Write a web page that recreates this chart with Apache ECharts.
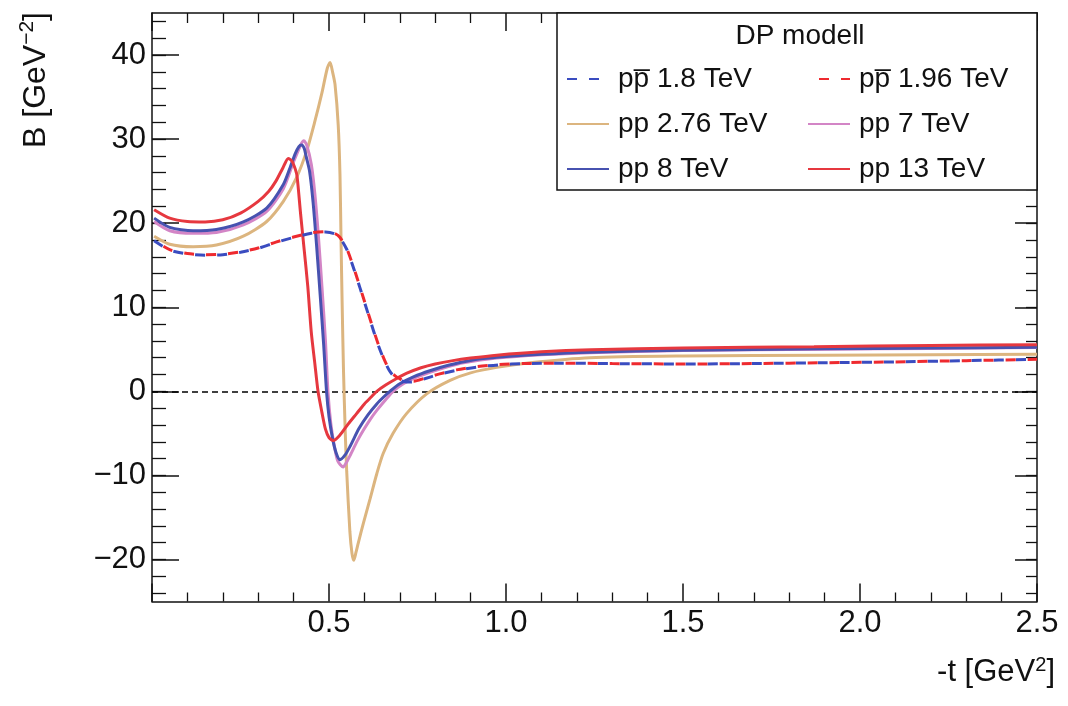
<!DOCTYPE html>
<html><head><meta charset="utf-8">
<script src="https://cdn.jsdelivr.net/npm/echarts@6/dist/echarts.min.js"></script>
<style>html,body{margin:0;padding:0;background:#fff}#c{width:1068px;height:706px}</style>
</head><body><div id="c"></div>
<script>
// ---------- DATA ----------
const xTickLabels = [0.5, 1.0, 1.5, 2.0, 2.5];
const yTickLabels = [-20, -10, 0, 10, 20, 30, 40];
const yMinorTicks = [-24,-22,-20,-18,-16,-14,-12,-10,-8,-6,-4,-2,0,2,4,6,8,10,12,14,16,18,20,22,24,26,28,30,32,34,36,38,40,42,44];

const names = ['pp\u0305 1.8 TeV', 'pp\u0305 1.96 TeV', 'pp 2.76 TeV', 'pp 7 TeV', 'pp 8 TeV', 'pp 13 TeV'];

// pp-bar 1.8 TeV (dashed blue)
const t18 = [0.006,0.05,0.1,0.15,0.2,0.25,0.3,0.35,0.4,0.45,0.49,0.515,0.53,0.55,0.565,0.58,0.595,0.61,0.625,0.64,0.655,0.67,0.685,0.70,0.72,0.74,0.77,0.81,0.86,0.92,0.98,1.05,1.15,1.3,1.5,1.7,1.9,2.1,2.3,2.5];
const b18 = [17.9,16.8,16.35,16.2,16.25,16.55,17.0,17.7,18.3,18.8,18.95,18.75,18.3,16.9,15.2,13.3,11.3,9.3,7.3,5.4,3.8,2.5,1.7,1.3,1.1,1.15,1.5,2.0,2.5,2.9,3.15,3.3,3.35,3.3,3.25,3.3,3.4,3.5,3.65,3.8];
// pp-bar 1.96 TeV (dashed red)
const t196 = [0.006,0.05,0.1,0.15,0.2,0.25,0.3,0.35,0.4,0.45,0.49,0.515,0.53,0.55,0.565,0.58,0.595,0.61,0.625,0.64,0.655,0.67,0.685,0.70,0.72,0.74,0.77,0.81,0.86,0.92,0.98,1.05,1.15,1.3,1.5,1.7,1.9,2.1,2.3,2.5];
const b196 = [17.95,16.85,16.4,16.25,16.3,16.6,17.05,17.75,18.35,18.85,19.0,18.8,18.35,17.0,15.3,13.4,11.4,9.4,7.4,5.5,3.9,2.6,1.9,1.5,1.2,1.2,1.55,2.05,2.55,2.95,3.2,3.3,3.35,3.3,3.25,3.3,3.4,3.5,3.65,3.8];
// pp 2.76 TeV (tan)
const t276 = [0.006,0.05,0.116,0.182,0.258,0.324,0.371,0.408,0.437,0.46,0.48,0.495,0.503,0.51,0.517,0.526,0.531,0.534,0.537,0.541,0.546,0.55,0.559,0.565,0.570,0.576,0.583,0.597,0.616,0.635,0.653,0.681,0.719,0.776,0.842,0.90,0.974,1.068,1.237,1.5,1.9,2.2,2.5];
const b276 = [18.45,17.5,17.2,17.4,18.45,20.2,22.6,25.4,28.6,32.1,35.5,38.4,39.1,38.0,36.5,31.7,25.8,17.9,10.7,2.4,-5.0,-9.5,-16.7,-19.3,-20.1,-19.2,-18.0,-15.7,-12.8,-9.8,-7.4,-5.0,-2.65,-0.3,1.3,2.2,2.85,3.4,4.0,4.2,4.3,4.35,4.4];
// pp 7 TeV (pink)
const t7 = [0.006,0.05,0.116,0.182,0.258,0.324,0.371,0.40,0.42,0.429,0.437,0.45,0.46,0.47,0.48,0.49,0.497,0.505,0.515,0.525,0.540,0.55,0.56,0.58,0.597,0.617,0.635,0.66,0.681,0.71,0.738,0.785,0.837,0.88,0.974,1.1,1.237,1.5,1.9,2.2,2.5];
const b7 = [20.2,19.1,18.8,18.9,19.8,21.4,24.1,27.3,29.3,29.8,29.3,27.0,23.5,18.5,12.5,6.0,0.0,-3.8,-6.5,-8.3,-9.0,-8.4,-7.6,-5.9,-4.64,-3.3,-2.26,-1.0,0.0,0.9,1.5,2.25,2.95,3.4,3.95,4.35,4.6,4.85,5.0,5.1,5.2];
// pp 8 TeV (blue)
const t8 = [0.006,0.05,0.116,0.182,0.258,0.324,0.371,0.39,0.405,0.415,0.422,0.43,0.435,0.445,0.455,0.465,0.475,0.485,0.493,0.50,0.51,0.52,0.531,0.545,0.56,0.585,0.61,0.635,0.655,0.672,0.70,0.74,0.785,0.837,0.903,0.974,1.1,1.237,1.5,1.9,2.2,2.5];
const b8 = [20.6,19.5,19.1,19.25,20.15,21.8,24.6,26.6,28.3,29.1,29.3,28.9,28.0,26.2,22.5,17.3,11.5,5.5,0.0,-3.0,-5.6,-7.3,-8.13,-7.6,-6.5,-4.4,-2.8,-1.5,-0.65,0.0,0.9,1.75,2.45,3.1,3.7,4.05,4.4,4.65,4.9,5.05,5.15,5.24];
// pp 13 TeV (red)
const t13 = [0.006,0.05,0.1,0.15,0.2,0.25,0.3,0.33,0.35,0.37,0.385,0.395,0.405,0.41,0.42,0.43,0.44,0.45,0.46,0.469,0.48,0.49,0.50,0.512,0.53,0.554,0.578,0.60,0.62,0.635,0.66,0.69,0.72,0.76,0.80,0.85,0.90,0.974,1.1,1.24,1.5,1.87,2.2,2.5];
const b13 = [21.6,20.6,20.2,20.15,20.4,21.2,22.6,23.8,25.0,26.6,27.7,27.4,26.4,25.5,21.0,16.8,12.5,7.0,3.3,0.0,-2.5,-4.5,-5.5,-5.85,-5.25,-3.9,-2.65,-1.5,-0.65,0.0,0.75,1.5,2.15,2.8,3.25,3.65,3.95,4.3,4.7,4.95,5.15,5.3,5.45,5.55];

// ---------- CHART ----------
const FONT = '"Liberation Sans", Arial, sans-serif';
const pairs = (xs, ys) => xs.map((x, i) => [x, ys[i]]);
const colors = {
  d18: '#3a4cc0', d196: '#ee2a2f', c276: '#dcb57f', c7: '#d385c6', c8: '#4752b0', c13: '#e6383f'
};
function solid(name, xs, ys, color, z) {
  return { name, type: 'line', data: pairs(xs, ys), symbol: 'none', showSymbol: false,
    smooth: 0.25, z,
    lineStyle: { color, width: 3, type: 'solid' }, itemStyle: { color } };
}
function dashed(name, xs, ys, color, offset, z) {
  return { name, type: 'line', data: pairs(xs, ys), symbol: 'none', showSymbol: false,
    smooth: 0.25, z,
    lineStyle: { color, width: 3, type: [10, 12], dashOffset: offset }, itemStyle: { color } };
}
const series = [
  solid(names[2], t276, b276, colors.c276, 2),
  solid(names[3], t7, b7, colors.c7, 3),
  solid(names[4], t8, b8, colors.c8, 4),
  solid(names[5], t13, b13, colors.c13, 5),
  dashed(names[0], t18, b18, colors.d18, 0, 6),
  dashed(names[1], t196, b196, colors.d196, 11, 7)
];
series[0].markLine = {
  silent: true, symbol: ['none', 'none'], label: { show: false }, z: 1,
  lineStyle: { color: '#000', type: [6, 4], width: 1.5 },
  data: [{ yAxis: 0 }]
};

const axisCol = '#111';
const tickLab = { fontSize: 31, fontFamily: FONT, color: '#111' };
const chart = echarts.init(document.getElementById('c'));
const legendCommon = {
  orient: 'vertical', top: 64, itemWidth: 42, itemHeight: 14, itemGap: 15, padding: 0,
  selectedMode: false, z: 10, itemStyle: { opacity: 0 },
  textStyle: { fontSize: 28, fontFamily: FONT, color: '#111', lineHeight: 30, padding: [0, 0, 0, 4] }
};
const line = { show: true, onZero: false, lineStyle: { color: axisCol, width: 1.5 } };
chart.setOption({
  animation: false,
  backgroundColor: '#fff',
  grid: { left: 152, right: 31, top: 13, bottom: 104.5, containLabel: false },
  xAxis: [
    { type: 'value', position: 'bottom', min: 0, max: 2.5, interval: 0.5,
      axisLine: line,
      axisTick: { show: true, inside: true, length: 18, lineStyle: { color: axisCol, width: 1.5 } },
      minorTick: { show: true, splitNumber: 5, length: 9, lineStyle: { color: axisCol, width: 1.3 } },
      splitLine: { show: false }, minorSplitLine: { show: false },
      axisLabel: Object.assign({ margin: 6, formatter: v => xTickLabels.includes(v) ? v.toFixed(1) : '' }, tickLab) },
    { type: 'value', position: 'top', min: 0, max: 2.5, interval: 0.5,
      axisLine: line,
      axisTick: { show: true, inside: true, length: 18, lineStyle: { color: axisCol, width: 1.5 } },
      minorTick: { show: true, splitNumber: 5, length: 10, lineStyle: { color: axisCol, width: 1.3 } },
      splitLine: { show: false }, axisLabel: { show: false } }
  ],
  yAxis: [
    { type: 'value', position: 'left', min: -25, max: 45,
      axisLine: line,
      axisTick: { show: true, inside: true, length: 27, customValues: yTickLabels, lineStyle: { color: axisCol, width: 1.5 } },
      splitLine: { show: false },
      axisLabel: Object.assign({ margin: 6, customValues: yTickLabels, formatter: v => String(v).replace('-', '\u2212') }, tickLab) },
    { type: 'value', position: 'left', min: -25, max: 45,
      axisLine: { show: false, onZero: false },
      axisTick: { show: true, inside: true, length: 14, customValues: yMinorTicks, lineStyle: { color: axisCol, width: 1.3 } },
      splitLine: { show: false }, axisLabel: { show: false } },
    { type: 'value', position: 'right', min: -25, max: 45,
      axisLine: line,
      axisTick: { show: true, inside: true, length: 22, customValues: yTickLabels, lineStyle: { color: axisCol, width: 1.5 } },
      splitLine: { show: false }, axisLabel: { show: false } },
    { type: 'value', position: 'right', min: -25, max: 45,
      axisLine: { show: false, onZero: false },
      axisTick: { show: true, inside: true, length: 11, customValues: yMinorTicks, lineStyle: { color: axisCol, width: 1.3 } },
      splitLine: { show: false }, axisLabel: { show: false } }
  ],
  legend: [
    Object.assign({ left: 566, data: [names[0], names[2], names[4]] }, legendCommon),
    Object.assign({ left: 807, data: [names[1], names[3], names[5]] }, legendCommon)
  ],
  graphic: [
    { type: 'rect', z: 8, shape: { x: 557, y: 13, width: 480, height: 177 },
      style: { fill: '#fff', stroke: '#111', lineWidth: 1.5 } },
    { type: 'text', z: 9, x: 800, y: 36,
      style: { text: 'DP modell', font: '28px ' + FONT, fill: '#111', align: 'center', verticalAlign: 'middle' } },
    { type: 'text', z: 9, x: 36, y: 12, rotation: Math.PI / 2,
      style: { text: '{n|B [GeV}{s|\u22122}{n|]}', align: 'right', verticalAlign: 'middle', fill: '#111',
        rich: { n: { fontSize: 32, fontFamily: FONT, fill: '#111', lineHeight: 38 },
                s: { fontSize: 21, fontFamily: FONT, fill: '#111', verticalAlign: 'top', lineHeight: 38 } } } },
    { type: 'text', z: 9, x: 1055, y: 672,
      style: { text: '{n|-t [GeV}{s|2}{n|]}', align: 'right', verticalAlign: 'middle', fill: '#111',
        rich: { n: { fontSize: 31, fontFamily: FONT, fill: '#111', lineHeight: 34 },
                s: { fontSize: 20, fontFamily: FONT, fill: '#111', verticalAlign: 'top', lineHeight: 34 } } } }
  ],
  series: series
});
</script></body></html>
